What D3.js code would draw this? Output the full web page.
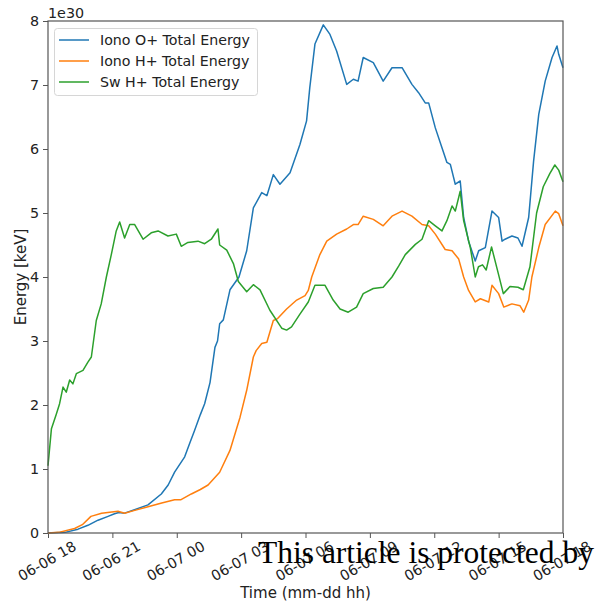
<!DOCTYPE html>
<html>
<head>
<meta charset="utf-8">
<script src="https://cdn.jsdelivr.net/npm/d3@7"></script>
<style>
  body { margin: 0; background: #fff; }
  svg { display: block; font-family: "DejaVu Sans", sans-serif; }
</style>
</head>
<body>
<div id="root"></div>
<script>
// chart size and plot area
let width = 595, height = 602;
let margin = {top: 21, right: 32, bottom: 69, left: 48};

// series labels and colours
const seriesNames = ['Iono O+ Total Energy', 'Iono H+ Total Energy', 'Sw H+ Total Energy'];
const seriesColors = ['#1f77b4', '#ff7f0e', '#2ca02c'];

// start of the time axis, values are hours after it
const startTime = Date.UTC(2000, 5, 6, 18);
const xTickHours = [0, 3, 6, 9, 12, 15, 18, 21, 24];
const yTicks = [0, 1, 2, 3, 4, 5, 6, 7, 8];

// Iono O+ (units of 1e30 keV)
const ionoOHours = [0, 0.8, 1.4, 1.86, 2.33, 2.8, 3.1, 3.3, 3.57, 4.0, 4.66, 5.28, 5.6, 5.9, 6.37, 6.6, 6.83, 7.1, 7.3, 7.55, 7.78, 7.9, 8.0, 8.17, 8.48, 8.9, 9.26, 9.57, 9.96, 10.2, 10.5, 10.81, 11.28, 11.74, 12.05, 12.2, 12.44, 12.83, 13.14, 13.45, 13.92, 14.23, 14.45, 14.69, 15.16, 15.62, 16.03, 16.5, 16.96, 17.27, 17.58, 17.74, 18.05, 18.36, 18.59, 18.75, 18.98, 19.21, 19.37, 19.6, 19.91, 20.07, 20.38, 20.69, 21.0, 21.16, 21.3, 21.62, 21.9, 22.09, 22.4, 22.63, 22.87, 23.17, 23.49, 23.72, 23.8, 24];
const ionoOValues = [0, 0.01, 0.06, 0.12, 0.2, 0.26, 0.3, 0.32, 0.31, 0.36, 0.44, 0.61, 0.75, 0.95, 1.19, 1.4, 1.6, 1.85, 2.02, 2.35, 2.9, 3.0, 3.27, 3.33, 3.8, 4.0, 4.41, 5.08, 5.32, 5.27, 5.6, 5.45, 5.63, 6.07, 6.44, 6.96, 7.64, 7.94, 7.79, 7.53, 7.01, 7.09, 7.06, 7.43, 7.35, 7.06, 7.27, 7.27, 7.01, 6.88, 6.72, 6.72, 6.33, 6.02, 5.79, 5.76, 5.45, 5.5, 4.93, 4.56, 4.25, 4.41, 4.46, 5.03, 4.93, 4.56, 4.59, 4.64, 4.61, 4.48, 4.93, 5.81, 6.54, 7.06, 7.43, 7.61, 7.48, 7.27];

// Iono H+
const ionoHHours = [0, 0.5, 1.24, 1.6, 2.0, 2.5, 3.26, 3.57, 4.0, 4.66, 5.3, 5.9, 6.2, 6.68, 7.1, 7.46, 8.0, 8.48, 8.95, 9.26, 9.57, 9.7, 9.96, 10.2, 10.5, 10.7, 11.12, 11.59, 11.98, 12.13, 12.29, 12.67, 12.99, 13.45, 13.92, 14.23, 14.45, 14.69, 15.16, 15.62, 16.03, 16.5, 16.96, 17.43, 17.74, 18.05, 18.51, 18.83, 19.14, 19.37, 19.6, 19.91, 20.15, 20.54, 20.69, 21.0, 21.24, 21.62, 22.0, 22.17, 22.4, 22.55, 22.87, 23.17, 23.64, 23.8, 24];
const ionoHValues = [0, 0.01, 0.07, 0.13, 0.26, 0.31, 0.34, 0.31, 0.35, 0.41, 0.47, 0.52, 0.52, 0.61, 0.68, 0.75, 0.95, 1.29, 1.81, 2.23, 2.75, 2.85, 2.96, 2.98, 3.32, 3.35, 3.5, 3.64, 3.71, 3.79, 4.0, 4.35, 4.56, 4.67, 4.75, 4.82, 4.82, 4.95, 4.9, 4.8, 4.95, 5.03, 4.95, 4.82, 4.8, 4.67, 4.43, 4.41, 4.28, 4.0, 3.79, 3.61, 3.66, 3.61, 3.87, 3.74, 3.53, 3.58, 3.55, 3.45, 3.64, 4.0, 4.46, 4.82, 5.03, 4.99, 4.8];

// Sw H+
const swHHours = [0, 0.16, 0.39, 0.54, 0.7, 0.85, 1.01, 1.16, 1.32, 1.63, 1.86, 2.02, 2.25, 2.48, 2.72, 2.95, 3.18, 3.34, 3.57, 3.81, 4.04, 4.43, 4.81, 5.13, 5.59, 5.98, 6.21, 6.52, 6.99, 7.3, 7.61, 7.92, 8.0, 8.33, 8.64, 8.87, 9.26, 9.57, 9.88, 10.34, 10.89, 11.12, 11.35, 11.74, 12.13, 12.44, 12.91, 13.29, 13.61, 13.99, 14.38, 14.69, 15.16, 15.62, 16.03, 16.34, 16.65, 17.12, 17.43, 17.74, 18.05, 18.36, 18.59, 18.83, 18.98, 19.21, 19.37, 19.68, 19.91, 20.06, 20.25, 20.42, 20.67, 20.98, 21.22, 21.53, 21.9, 22.15, 22.46, 22.77, 23.08, 23.39, 23.62, 23.8, 24];
const swHValues = [1.05, 1.63, 1.86, 2.02, 2.28, 2.2, 2.39, 2.33, 2.49, 2.54, 2.67, 2.75, 3.32, 3.58, 4.0, 4.35, 4.72, 4.86, 4.61, 4.82, 4.82, 4.59, 4.69, 4.72, 4.64, 4.67, 4.48, 4.54, 4.56, 4.52, 4.59, 4.75, 4.5, 4.42, 4.21, 3.93, 3.77, 3.88, 3.8, 3.48, 3.2, 3.17, 3.22, 3.42, 3.61, 3.87, 3.87, 3.64, 3.5, 3.45, 3.53, 3.74, 3.82, 3.84, 4.0, 4.17, 4.35, 4.51, 4.59, 4.88, 4.8, 4.72, 4.88, 5.11, 5.03, 5.34, 4.88, 4.46, 4.0, 4.16, 4.19, 4.11, 4.47, 4.06, 3.74, 3.85, 3.84, 3.8, 4.16, 5.0, 5.41, 5.62, 5.75, 5.67, 5.49];

const seriesHours = [ionoOHours, ionoHHours, swHHours];
const seriesValues = [ionoOValues, ionoHValues, swHValues];

const toDate = h => new Date(startTime + h * 3600 * 1000);

var svg = d3.select('#root')
  .append('svg')
  .attr('width', width)
  .attr('height', height);

// scales
var xScale = d3.scaleUtc()
  .domain([toDate(0), toDate(24)])
  .range([margin.left, width - margin.right]);
var yScale = d3.scaleLinear()
  .domain([0, 8])
  .range([height - margin.bottom, margin.top]);

const spineColor = '#555';
const fmt = d3.utcFormat('%m-%d %H');

// x axis
var xAxis = svg.append('g')
  .attr('transform', 'translate(' + [0, height - margin.bottom] + ')')
  .call(d3.axisBottom(xScale)
    .tickValues(xTickHours.map(toDate))
    .tickSize(5)
    .tickSizeOuter(0)
    .tickFormat(''));
xAxis.select('.domain').remove();
xAxis.selectAll('line').attr('stroke', spineColor);

// rotated x tick labels, centred under each tick
svg.append('g').selectAll('text')
  .data(xTickHours)
  .enter()
  .append('text')
  .attr('transform', d => 'translate(' + [xScale(toDate(d)) - 1, height - margin.bottom + 28] + ') rotate(-30)')
  .attr('text-anchor', 'middle')
  .attr('dominant-baseline', 'central')
  .attr('font-size', 14.3)
  .attr('fill', '#222')
  .text(d => fmt(toDate(d)));

// y axis
var yAxis = svg.append('g')
  .attr('transform', 'translate(' + [margin.left, 0] + ')')
  .call(d3.axisLeft(yScale)
    .tickValues(yTicks)
    .tickSize(5)
    .tickPadding(4)
    .tickSizeOuter(0)
    .tickFormat(d3.format('d')));
yAxis.select('.domain').remove();
yAxis.selectAll('line').attr('stroke', spineColor);
yAxis.selectAll('text')
  .attr('font-size', 14.3)
  .attr('font-family', 'DejaVu Sans')
  .attr('fill', '#222');

// offset label
svg.append('text')
  .attr('x', margin.left)
  .attr('y', 18)
  .attr('font-size', 14.3)
  .attr('fill', '#222')
  .text('1e30');

// lines
var line = d3.line()
  .x(d => xScale(toDate(d[0])))
  .y(d => yScale(d[1]));

var lineGroup = svg.append('g');
seriesNames.forEach((name, i) => {
  var pts = seriesHours[i].map((h, j) => [h, seriesValues[i][j]]);
  lineGroup.append('path')
    .datum(pts)
    .attr('fill', 'none')
    .attr('stroke', seriesColors[i])
    .attr('stroke-width', 1.5)
    .attr('stroke-linejoin', 'round')
    .attr('d', line);
});

// frame
svg.append('rect')
  .attr('x', margin.left)
  .attr('y', margin.top)
  .attr('width', width - margin.left - margin.right)
  .attr('height', height - margin.top - margin.bottom)
  .attr('fill', 'none')
  .attr('stroke', spineColor)
  .attr('stroke-width', 1.2);

// legend
var legend = svg.append('g');
legend.append('rect')
  .attr('x', 54.5)
  .attr('y', 28.5)
  .attr('width', 203)
  .attr('height', 67)
  .attr('rx', 3)
  .attr('fill', 'rgba(255,255,255,0.8)')
  .attr('stroke', '#d6d6d6');
seriesNames.forEach((name, i) => {
  var yy = 40 + i * 21;
  legend.append('line')
    .attr('x1', 59).attr('x2', 89)
    .attr('y1', yy).attr('y2', yy)
    .attr('stroke', seriesColors[i])
    .attr('stroke-width', 1.5);
  legend.append('text')
    .attr('x', 100)
    .attr('y', yy)
    .attr('dominant-baseline', 'central')
    .attr('font-size', 14.2)
    .attr('fill', '#222')
    .text(name);
});

// axis titles
svg.append('text')
  .attr('x', (margin.left + width - margin.right) / 2)
  .attr('y', 598)
  .attr('text-anchor', 'middle')
  .attr('font-size', 15)
  .attr('fill', '#222')
  .text('Time (mm-dd hh)');
svg.append('text')
  .attr('transform', 'translate(' + [26, (margin.top + height - margin.bottom) / 2] + ') rotate(-90)')
  .attr('text-anchor', 'middle')
  .attr('font-size', 15)
  .attr('fill', '#222')
  .text('Energy [keV]');

// overlaid notice text (runs past the right edge, as in the source)
svg.append('text')
  .attr('x', 258)
  .attr('y', 563)
  .attr('font-family', '"Liberation Serif", serif')
  .attr('font-size', 31.5)
  .attr('fill', '#000')
  .text('This article is protected by copyright');
</script>
</body>
</html>
